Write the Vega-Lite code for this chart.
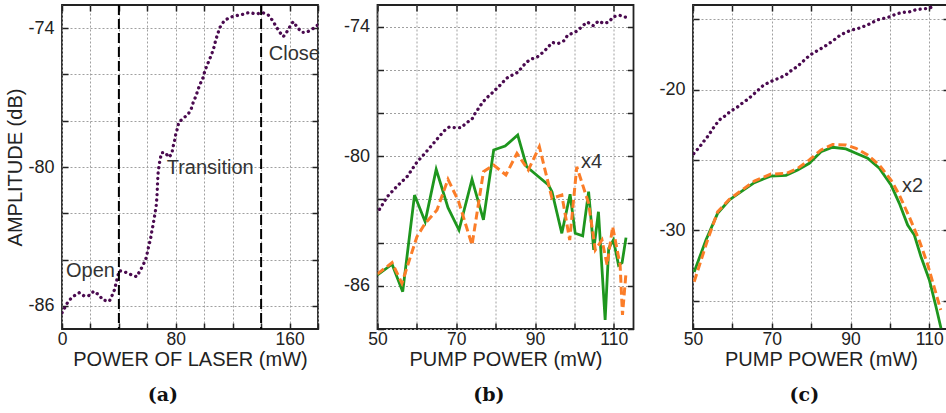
{
 "$schema": "https://vega.github.io/schema/vega-lite/v6.json",
 "padding": {"left": 5, "top": 3, "right": 0, "bottom": 0},
 "bounds": "flush",
 "spacing": 59.5,
 "config": {
  "view": {"stroke": "#222", "strokeWidth": 1.8},
  "axis": {"domain": false, "grid": true, "gridDash": [2, 2], "gridColor": "#a0a0a0", "gridWidth": 1, "tickSize": -6, "tickColor": "#222", "tickWidth": 1.5, "labelFont": "Liberation Sans", "labelFontSize": 18, "labelColor": "#222", "labelFlush": false, "labelOverlap": false, "labelBound": false, "titleFont": "Liberation Sans", "titleFontSize": 20, "titleFontWeight": "normal", "titleColor": "#222"},
  "axisX": {"labelPadding": 7, "labelFontSize": 17.5, "titlePadding": 2},
  "axisY": {"labelPadding": 14, "titlePadding": 2},
  "title": {"font": "DejaVu Serif", "fontSize": 19, "fontWeight": "bold", "color": "#111"}
 },
 "datasets": {
  "a_purple": [
   {"x":0,"y":-86.3},{"x":4.6,"y":-85.78},{"x":8.7,"y":-85.56},{"x":12.2,"y":-85.43},{"x":15.7,"y":-85.58},{"x":19.2,"y":-85.55},{"x":22.3,"y":-85.37},{"x":25.8,"y":-85.52},{"x":28.8,"y":-85.75},{"x":33.3,"y":-85.8},{"x":35.2,"y":-85.55},{"x":36.8,"y":-85.32},{"x":38,"y":-85.03},{"x":39.1,"y":-84.74},{"x":40.3,"y":-84.48},{"x":44.3,"y":-84.54},{"x":48.5,"y":-84.65},{"x":52.5,"y":-84.74},{"x":54.9,"y":-84.48},{"x":57,"y":-84.24},{"x":58.9,"y":-83.98},{"x":60,"y":-83.7},{"x":61,"y":-83.41},{"x":62.2,"y":-83.13},{"x":63.1,"y":-82.8},{"x":64,"y":-82.52},{"x":64.7,"y":-82.26},{"x":65.5,"y":-81.97},{"x":66.2,"y":-81.69},{"x":66.6,"y":-81.4},{"x":66.9,"y":-81.11},{"x":67.1,"y":-80.82},{"x":67.3,"y":-80.53},{"x":67.6,"y":-80.25},{"x":68.3,"y":-79.91},{"x":69,"y":-79.66},{"x":70.1,"y":-79.38},{"x":72.7,"y":-79.38},{"x":75,"y":-79.58},{"x":77.2,"y":-79.44},{"x":78.1,"y":-79.12},{"x":79.3,"y":-78.83},{"x":80,"y":-78.57},{"x":81.2,"y":-78.33},{"x":82.1,"y":-78.07},{"x":85.2,"y":-77.9},{"x":88.7,"y":-77.72},{"x":91,"y":-77.46},{"x":92.4,"y":-77.18},{"x":94.3,"y":-76.92},{"x":95.7,"y":-76.64},{"x":97.4,"y":-76.38},{"x":99.3,"y":-76.12},{"x":100.4,"y":-75.85},{"x":102.1,"y":-75.59},{"x":103.9,"y":-75.33},{"x":105.6,"y":-75.06},{"x":107,"y":-74.8},{"x":108.1,"y":-74.51},{"x":109.5,"y":-74.25},{"x":110.9,"y":-73.98},{"x":114,"y":-73.69},{"x":118,"y":-73.53},{"x":122.7,"y":-73.46},{"x":127.4,"y":-73.4},{"x":131.8,"y":-73.32},{"x":136.3,"y":-73.39},{"x":141,"y":-73.33},{"x":145,"y":-73.43},{"x":147.8,"y":-73.65},{"x":150.2,"y":-73.89},{"x":152.7,"y":-74.15},{"x":155.6,"y":-74.37},{"x":157.9,"y":-74.18},{"x":160.2,"y":-73.94},{"x":162.6,"y":-73.72},{"x":165.4,"y":-73.96},{"x":168.5,"y":-74.18},{"x":172,"y":-74.18},{"x":176,"y":-74.04},{"x":180,"y":-73.86}
  ],
  "b_purple": [
   {"x":50.5,"y":-82.46},{"x":52.5,"y":-81.87},{"x":55,"y":-81.38},{"x":57.5,"y":-80.95},{"x":60,"y":-80.28},{"x":62.4,"y":-79.79},{"x":64.7,"y":-79.3},{"x":66.9,"y":-78.83},{"x":68.2,"y":-78.65},{"x":69.7,"y":-78.68},{"x":71.3,"y":-78.68},{"x":72.4,"y":-78.48},{"x":74,"y":-78.28},{"x":74.8,"y":-78.01},{"x":75.8,"y":-77.75},{"x":76.7,"y":-77.5},{"x":77.9,"y":-77.27},{"x":79,"y":-77.09},{"x":80.3,"y":-76.86},{"x":81.6,"y":-76.63},{"x":82.6,"y":-76.41},{"x":83.7,"y":-76.29},{"x":85.6,"y":-76.12},{"x":86.7,"y":-75.88},{"x":87.8,"y":-75.65},{"x":89,"y":-75.51},{"x":90.7,"y":-75.39},{"x":91.9,"y":-75.21},{"x":93.2,"y":-74.98},{"x":94.3,"y":-74.74},{"x":96,"y":-74.77},{"x":97.4,"y":-74.65},{"x":98.3,"y":-74.39},{"x":99.7,"y":-74.3},{"x":100.8,"y":-74.19},{"x":102.1,"y":-73.96},{"x":103.3,"y":-73.79},{"x":104.8,"y":-73.96},{"x":106.1,"y":-73.74},{"x":107.4,"y":-73.85},{"x":108.7,"y":-73.8},{"x":109.9,"y":-73.54},{"x":111.5,"y":-73.48},{"x":113.1,"y":-73.57}
  ],
  "b_green": [
   {"x":50,"y":-85.5},{"x":53.7,"y":-85.0},{"x":56.4,"y":-86.27},{"x":59.4,"y":-81.8},{"x":62.1,"y":-83.03},{"x":64.9,"y":-80.61},{"x":67.9,"y":-82.38},{"x":70.7,"y":-83.42},{"x":74,"y":-81.07},{"x":76.9,"y":-82.95},{"x":79.5,"y":-79.71},{"x":82.4,"y":-79.53},{"x":85.6,"y":-79.02},{"x":87.9,"y":-80.49},{"x":90.9,"y":-80.95},{"x":93.4,"y":-81.33},{"x":94.3,"y":-81.64},{"x":96.8,"y":-83.57},{"x":98.9,"y":-81.76},{"x":100.2,"y":-83.57},{"x":102.1,"y":-83.69},{"x":103.6,"y":-81.64},{"x":104.9,"y":-84.34},{"x":106.1,"y":-82.57},{"x":107.8,"y":-87.58},{"x":108.7,"y":-84.27},{"x":109.9,"y":-83.88},{"x":111.2,"y":-85.04},{"x":112.1,"y":-84.93},{"x":113.1,"y":-83.77}
  ],
  "b_orange": [
   {"x":50,"y":-85.45},{"x":53.7,"y":-84.93},{"x":56.2,"y":-85.88},{"x":60,"y":-83.73},{"x":62.1,"y":-83.11},{"x":65.1,"y":-82.49},{"x":67.9,"y":-81.07},{"x":70.6,"y":-82.1},{"x":74,"y":-84.11},{"x":76.9,"y":-80.72},{"x":79.5,"y":-80.41},{"x":82.6,"y":-80.87},{"x":85.4,"y":-79.87},{"x":88.3,"y":-80.64},{"x":91.1,"y":-79.56},{"x":94.3,"y":-81.95},{"x":96.8,"y":-81.8},{"x":98.8,"y":-83.88},{"x":100.6,"y":-80.49},{"x":103.6,"y":-82.18},{"x":105.3,"y":-84.34},{"x":107,"y":-83.88},{"x":108.3,"y":-85.04},{"x":109.7,"y":-83.26},{"x":111.6,"y":-85.04},{"x":112.2,"y":-87.35},{"x":113.1,"y":-85.39}
  ],
  "c_purple": [
   {"x":50.2,"y":-24.55},{"x":51.85,"y":-24.01},{"x":52.87,"y":-23.63},{"x":53.89,"y":-23.28},{"x":54.82,"y":-22.87},{"x":55.83,"y":-22.47},{"x":56.93,"y":-22.11},{"x":58.2,"y":-21.86},{"x":59.64,"y":-21.52},{"x":61.08,"y":-21.29},{"x":62.44,"y":-20.98},{"x":63.87,"y":-20.7},{"x":65.14,"y":-20.39},{"x":66.41,"y":-20.08},{"x":67.68,"y":-19.75},{"x":69.12,"y":-19.51},{"x":70.65,"y":-19.32},{"x":72.17,"y":-19.16},{"x":73.78,"y":-18.92},{"x":75.13,"y":-18.61},{"x":76.4,"y":-18.38},{"x":77.67,"y":-18.07},{"x":78.94,"y":-17.74},{"x":80.38,"y":-17.43},{"x":81.9,"y":-17.19},{"x":83.34,"y":-16.96},{"x":84.61,"y":-16.72},{"x":86.05,"y":-16.43},{"x":87.41,"y":-16.13},{"x":88.85,"y":-15.94},{"x":90.37,"y":-15.77},{"x":92.07,"y":-15.65},{"x":93.67,"y":-15.49},{"x":95.2,"y":-15.3},{"x":96.72,"y":-15.06},{"x":98.41,"y":-14.95},{"x":100.02,"y":-14.83},{"x":101.54,"y":-14.64},{"x":103.23,"y":-14.52},{"x":104.76,"y":-14.5},{"x":106.45,"y":-14.35},{"x":108.15,"y":-14.28},{"x":109.84,"y":-14.24},{"x":111.28,"y":-14.07}
  ],
  "c_green": [
   {"x":50.3,"y":-32.95},{"x":53.29,"y":-30.68},{"x":56.25,"y":-28.79},{"x":59.22,"y":-27.84},{"x":62.6,"y":-27.18},{"x":65.57,"y":-26.61},{"x":69.8,"y":-26.14},{"x":73.61,"y":-26.09},{"x":76.57,"y":-25.71},{"x":79.53,"y":-25.24},{"x":82.5,"y":-24.41},{"x":85.46,"y":-24.1},{"x":88.84,"y":-24.22},{"x":91.38,"y":-24.53},{"x":94.35,"y":-24.88},{"x":97.31,"y":-25.59},{"x":100.27,"y":-26.78},{"x":102.39,"y":-28.08},{"x":104.5,"y":-29.62},{"x":106.2,"y":-30.33},{"x":107.89,"y":-31.87},{"x":110.01,"y":-33.52},{"x":111.7,"y":-35.42},{"x":112.97,"y":-36.95}
  ],
  "c_orange": [
   {"x":50.3,"y":-33.64},{"x":53.7,"y":-30.68},{"x":56.25,"y":-28.68},{"x":59.22,"y":-27.8},{"x":62.6,"y":-27.1},{"x":65.57,"y":-26.5},{"x":69.8,"y":-26.0},{"x":73.61,"y":-25.96},{"x":76.57,"y":-25.6},{"x":79.53,"y":-25.0},{"x":82.5,"y":-24.29},{"x":85.46,"y":-23.9},{"x":88.84,"y":-23.94},{"x":91.38,"y":-24.17},{"x":94.35,"y":-24.65},{"x":97.31,"y":-25.36},{"x":100.27,"y":-26.42},{"x":102.39,"y":-27.49},{"x":104.9,"y":-29.03},{"x":107.4,"y":-30.68},{"x":109.5,"y":-32.34},{"x":111.2,"y":-34.0},{"x":112.9,"y":-35.65}
  ]
 },
 "hconcat": [
  {
   "width": 256, "height": 324,
   "title": {"text": "(a)", "orient": "bottom", "frame": "bounds", "anchor": "middle", "offset": 16},
   "resolve": {"axis": {"x": "independent", "y": "independent"}},
   "layer": [
    {"data": {"name": "a_purple"},
     "mark": {"type": "line", "stroke": "#4a0a4f", "strokeWidth": 3.3, "strokeDash": [0.1, 5.3], "strokeCap": "round", "clip": true},
     "encoding": {
      "x": {"field": "x", "type": "quantitative", "scale": {"domain": [0, 180], "nice": false, "zero": false},
            "axis": {"values": [0,20,40,60,80,100,120,140,160,180], "labelExpr": "datum.value % 80 == 0 ? '' + datum.value : ''", "title": "POWER OF LASER (mW)"}},
      "y": {"field": "y", "type": "quantitative", "scale": {"domain": [-87, -73], "nice": false, "zero": false},
            "axis": {"values": [-86,-84,-82,-80,-78,-76,-74], "labelExpr": "datum.value % 6 == -2 ? '' + datum.value : ''", "title": "AMPLITUDE (dB)"}}
     }},
    {"data": {"values": [{"x": 40}, {"x": 140}]},
     "mark": {"type": "rule", "stroke": "#000", "strokeWidth": 2, "strokeDash": [10, 4]},
     "encoding": {"x": {"field": "x", "type": "quantitative", "scale": {"domain": [0, 180], "nice": false, "zero": false}, "axis": null}}},
    {"data": {"values": [{"x": 2.8, "y": -84.48, "label": "Open"}, {"x": 73.6, "y": -80.06, "label": "Transition"}, {"x": 145.4, "y": -75.13, "label": "Close"}]},
     "mark": {"type": "text", "align": "left", "baseline": "middle", "font": "Liberation Sans", "fontSize": 20, "fill": "#333"},
     "encoding": {
      "x": {"field": "x", "type": "quantitative", "scale": {"domain": [0, 180], "nice": false, "zero": false}, "axis": null},
      "y": {"field": "y", "type": "quantitative", "scale": {"domain": [-87, -73], "nice": false, "zero": false}, "axis": null},
      "text": {"field": "label"}
     }},
    {"data": {"name": "a_purple"},
     "mark": {"type": "line", "strokeOpacity": 0},
     "encoding": {
      "x": {"field": "x", "type": "quantitative", "scale": {"domain": [0, 180], "nice": false, "zero": false},
            "axis": {"orient": "top", "values": [0,20,40,60,80,100,120,140,160,180], "labels": false, "title": null, "grid": false}},
      "y": {"field": "y", "type": "quantitative", "scale": {"domain": [-87, -73], "nice": false, "zero": false},
            "axis": {"orient": "right", "values": [-86,-84,-82,-80,-78,-76,-74], "labels": false, "title": null, "grid": false}}
     }}
   ]
  },
  {
   "width": 256, "height": 324,
   "title": {"text": "(b)", "orient": "bottom", "frame": "bounds", "anchor": "middle", "offset": 16},
   "resolve": {"axis": {"x": "independent", "y": "independent"}},
   "layer": [
    {"data": {"name": "b_purple"},
     "mark": {"type": "line", "stroke": "#4a0a4f", "strokeWidth": 3.3, "strokeDash": [0.1, 5.3], "strokeCap": "round", "clip": true},
     "encoding": {
      "x": {"field": "x", "type": "quantitative", "scale": {"domain": [50, 115], "nice": false, "zero": false},
            "axis": {"values": [50,60,70,80,90,100,110], "labelExpr": "(datum.value - 50) % 20 == 0 ? '' + datum.value : ''", "title": "PUMP POWER (mW)"}},
      "y": {"field": "y", "type": "quantitative", "scale": {"domain": [-88, -73], "nice": false, "zero": false},
            "axis": {"values": [-88,-86,-84,-82,-80,-78,-76,-74], "labelExpr": "datum.value % 6 == -2 ? '' + datum.value : ''", "title": null}}
     }},
    {"data": {"name": "b_green"},
     "mark": {"type": "line", "stroke": "#1e961e", "strokeWidth": 2.8, "clip": true},
     "encoding": {
      "x": {"field": "x", "type": "quantitative", "scale": {"domain": [50, 115], "nice": false, "zero": false}, "axis": null},
      "y": {"field": "y", "type": "quantitative", "scale": {"domain": [-88, -73], "nice": false, "zero": false}, "axis": null}
     }},
    {"data": {"name": "b_orange"},
     "mark": {"type": "line", "stroke": "#fb7d28", "strokeWidth": 3, "strokeDash": [8, 4], "clip": true},
     "encoding": {
      "x": {"field": "x", "type": "quantitative", "scale": {"domain": [50, 115], "nice": false, "zero": false}, "axis": null},
      "y": {"field": "y", "type": "quantitative", "scale": {"domain": [-88, -73], "nice": false, "zero": false}, "axis": null}
     }},
    {"data": {"values": [{"x": 101.65, "y": -80.25, "label": "x4"}]},
     "mark": {"type": "text", "align": "left", "baseline": "middle", "font": "Liberation Sans", "fontSize": 20, "fill": "#333"},
     "encoding": {
      "x": {"field": "x", "type": "quantitative", "scale": {"domain": [50, 115], "nice": false, "zero": false}, "axis": null},
      "y": {"field": "y", "type": "quantitative", "scale": {"domain": [-88, -73], "nice": false, "zero": false}, "axis": null},
      "text": {"field": "label"}
     }},
    {"data": {"name": "b_purple"},
     "mark": {"type": "line", "strokeOpacity": 0},
     "encoding": {
      "x": {"field": "x", "type": "quantitative", "scale": {"domain": [50, 115], "nice": false, "zero": false},
            "axis": {"orient": "top", "values": [50,60,70,80,90,100,110], "labels": false, "title": null, "grid": false}},
      "y": {"field": "y", "type": "quantitative", "scale": {"domain": [-88, -73], "nice": false, "zero": false},
            "axis": {"orient": "right", "values": [-88,-86,-84,-82,-80,-78,-76,-74], "labels": false, "title": null, "grid": false}}
     }}
   ]
  },
  {
   "width": 256, "height": 324,
   "title": {"text": "(c)", "orient": "bottom", "frame": "bounds", "anchor": "middle", "offset": 16},
   "resolve": {"axis": {"x": "independent", "y": "independent"}},
   "layer": [
    {"data": {"name": "c_purple"},
     "mark": {"type": "line", "stroke": "#4a0a4f", "strokeWidth": 3.3, "strokeDash": [0.1, 5.3], "strokeCap": "round", "clip": true},
     "encoding": {
      "x": {"field": "x", "type": "quantitative", "scale": {"domain": [50, 115], "nice": false, "zero": false},
            "axis": {"values": [50,60,70,80,90,100,110], "labelExpr": "(datum.value - 50) % 20 == 0 ? '' + datum.value : ''", "title": "PUMP POWER (mW)"}},
      "y": {"field": "y", "type": "quantitative", "scale": {"domain": [-37, -14], "nice": false, "zero": false},
            "axis": {"values": [-35,-30,-25,-20,-15], "labelExpr": "datum.value % 10 == 0 ? '' + datum.value : ''", "title": null}}
     }},
    {"data": {"name": "c_green"},
     "mark": {"type": "line", "stroke": "#1e961e", "strokeWidth": 2.8, "clip": true},
     "encoding": {
      "x": {"field": "x", "type": "quantitative", "scale": {"domain": [50, 115], "nice": false, "zero": false}, "axis": null},
      "y": {"field": "y", "type": "quantitative", "scale": {"domain": [-37, -14], "nice": false, "zero": false}, "axis": null}
     }},
    {"data": {"name": "c_orange"},
     "mark": {"type": "line", "stroke": "#fb7d28", "strokeWidth": 3, "strokeDash": [8, 4], "clip": true},
     "encoding": {
      "x": {"field": "x", "type": "quantitative", "scale": {"domain": [50, 115], "nice": false, "zero": false}, "axis": null},
      "y": {"field": "y", "type": "quantitative", "scale": {"domain": [-37, -14], "nice": false, "zero": false}, "axis": null}
     }},
    {"data": {"values": [{"x": 103.07, "y": -26.83, "label": "x2"}]},
     "mark": {"type": "text", "align": "left", "baseline": "middle", "font": "Liberation Sans", "fontSize": 20, "fill": "#333"},
     "encoding": {
      "x": {"field": "x", "type": "quantitative", "scale": {"domain": [50, 115], "nice": false, "zero": false}, "axis": null},
      "y": {"field": "y", "type": "quantitative", "scale": {"domain": [-37, -14], "nice": false, "zero": false}, "axis": null},
      "text": {"field": "label"}
     }},
    {"data": {"name": "c_purple"},
     "mark": {"type": "line", "strokeOpacity": 0},
     "encoding": {
      "x": {"field": "x", "type": "quantitative", "scale": {"domain": [50, 115], "nice": false, "zero": false},
            "axis": {"orient": "top", "values": [50,60,70,80,90,100,110], "labels": false, "title": null, "grid": false}},
      "y": {"field": "y", "type": "quantitative", "scale": {"domain": [-37, -14], "nice": false, "zero": false},
            "axis": {"orient": "right", "values": [-35,-30,-25,-20,-15], "labels": false, "title": null, "grid": false}}
     }}
   ]
  }
 ]
}
